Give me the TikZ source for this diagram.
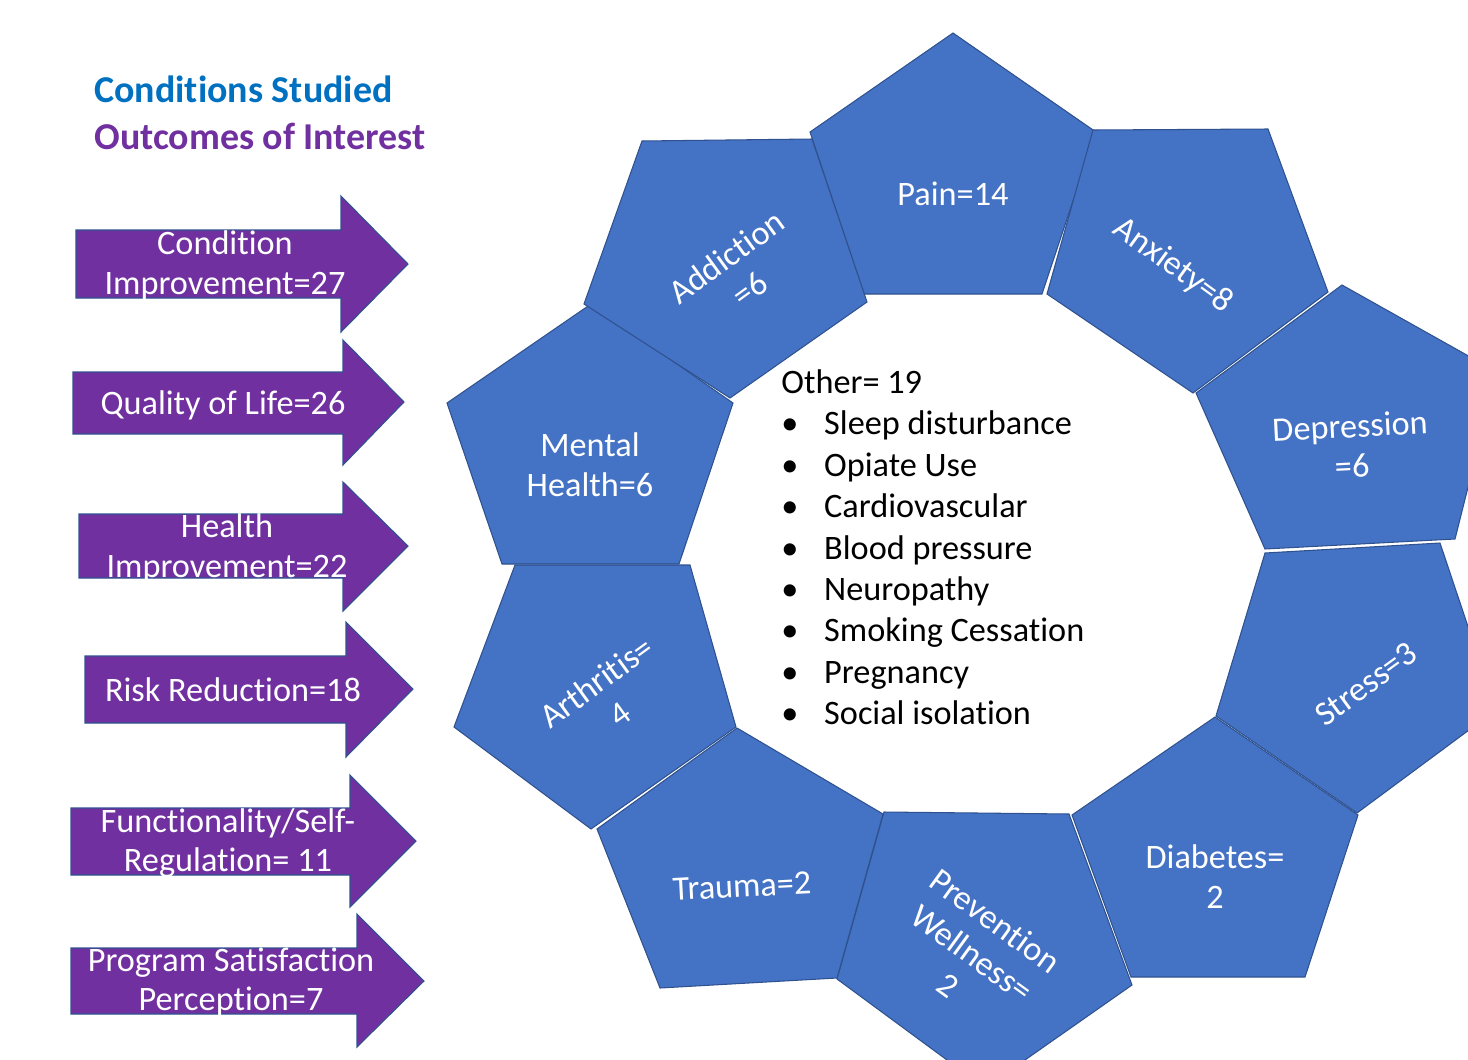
\documentclass[tikz,border=0pt]{standalone}
\usepackage{fontspec}
\setmainfont{Carlito}[Ligatures=NoCommon]
\definecolor{pentblue}{HTML}{4472C4}
\definecolor{pentedge}{HTML}{2F528F}
\definecolor{outpurple}{HTML}{7030A0}
\definecolor{condblue}{HTML}{0070C0}
\newcommand{\itembul}{\makebox[24.4pt][l]{\textbullet}}
\begin{document}
\begin{tikzpicture}[x=0.02cm,y=-0.02cm,
    pent/.style={fill=pentblue,draw=pentedge,line width=0.6pt},
    outarrow/.style={fill=outpurple,draw=pentedge,line width=0.6pt},
    lbl/.style={text=white,align=center,inner sep=0pt,font=\fontsize{19.5}{22.7}\selectfont},
    heading/.style={anchor=base west,inner sep=0pt,font=\bfseries\fontsize{21.6}{26}\selectfont}]
    \useasboundingbox (0,0) rectangle (1468,1059);
    \clip (0,0) rectangle (1468,1059);
    % headings
    \node[heading,text=condblue] (cond) at (94,102) {Conditions Studied};
    \node[heading,text=outpurple] (outc) at (94,149) {Outcomes of Interest};
    % outcome arrows
    \draw[outarrow] (76,230) -- (341,230) -- (341,196) -- (408,264) -- (341,332) -- (341,298) -- (76,298) -- cycle;
    \draw[outarrow] (73,372) -- (343,372) -- (343,340) -- (404,402) -- (343,465) -- (343,434) -- (73,434) -- cycle;
    \draw[outarrow] (79,514) -- (343,514) -- (343,482) -- (408,546) -- (343,611) -- (343,578) -- (79,578) -- cycle;
    \draw[outarrow] (85,656) -- (346,656) -- (346,622) -- (413,689) -- (346,757) -- (346,723) -- (85,723) -- cycle;
    \draw[outarrow] (71,808) -- (350,808) -- (350,775) -- (416,841) -- (350,907) -- (350,875) -- (71,875) -- cycle;
    \draw[outarrow] (71,948) -- (357,948) -- (357,914) -- (424,981) -- (357,1047) -- (357,1014) -- (71,1014) -- cycle;
    \node[lbl] (condimp) at (225,265) {Condition\\Improvement=27};
    \node[lbl] (qol) at (223,405) {Quality of Life=26};
    \node[lbl] (healthimp) at (227,548) {Health\\Improvement=22};
    \node[lbl] (risk) at (233,690) {Risk Reduction=18};
    \node[lbl] (func) at (228,843) {Functionality/Self-\\Regulation= 11};
    \node[lbl] (satis) at (231,982) {Program Satisfaction\\Perception=7};
    % ring of conditions
    \draw[pent] (953,33) -- (1096,132) -- (1042,294) -- (864,294) -- (810,132) -- cycle;
    \draw[pent] (1093,130) -- (1268,129) -- (1328,292) -- (1193,393) -- (1047,294) -- cycle;
    \draw[pent] (1342,285) -- (1497,372) -- (1455,539) -- (1265,549) -- (1196,393) -- cycle;
    \draw[pent] (1265,553) -- (1440,543) -- (1496,710) -- (1357,813) -- (1216,716) -- cycle;
    \draw[pent] (1215,717) -- (1358,815) -- (1305,977) -- (1131,977) -- (1072,815) -- cycle;
    \draw[pent] (884,812) -- (1069,814) -- (1132,985) -- (985,1088) -- (837,979) -- cycle;
    \draw[pent] (737,728) -- (883,814) -- (837,978) -- (660,988) -- (597,829) -- cycle;
    \draw[pent] (515,565) -- (690,565) -- (736,727) -- (591,829) -- (454,727) -- cycle;
    \draw[pent] (591,304) -- (733,403) -- (679,564) -- (502,564) -- (447,403) -- cycle;
    \draw[pent] (642,141) -- (812,139) -- (867,302) -- (730,398) -- (584,304) -- cycle;
    \node[lbl] (pain) at (953,194) {Pain=14};
    \node[lbl,rotate=-36] (anxiety) at (1173,266) {Anxiety=8};
    \node[lbl,rotate=3] (depression) at (1351,446) {Depression\\=6};
    \node[lbl,rotate=36] (stress) at (1366,684) {Stress=3};
    \node[lbl] (diabetes) at (1215,877) {Diabetes=\\2};
    \node[lbl,rotate=-36] (prevention) at (972,953) {Prevention\\Wellness=\\2};
    \node[lbl,rotate=3] (trauma) at (742,886) {Trauma=2};
    \node[lbl,rotate=36] (arthritis) at (608,698) {Arthritis=\\4};
    \node[lbl] (mental) at (590,465) {Mental\\Health=6};
    \node[lbl,rotate=36] (addiction) at (738,273) {Addiction\\=6};
    % other conditions
    \node[anchor=north west,inner sep=0pt,align=left,font=\fontsize{19.5}{23.6}\selectfont] (other) at (781,369)
        {Other= 19\\ \itembul Sleep disturbance\\ \itembul Opiate Use\\ \itembul Cardiovascular\\ \itembul Blood pressure\\
         \itembul Neuropathy\\ \itembul Smoking Cessation\\ \itembul Pregnancy\\ \itembul Social isolation};
\end{tikzpicture}
\end{document}
